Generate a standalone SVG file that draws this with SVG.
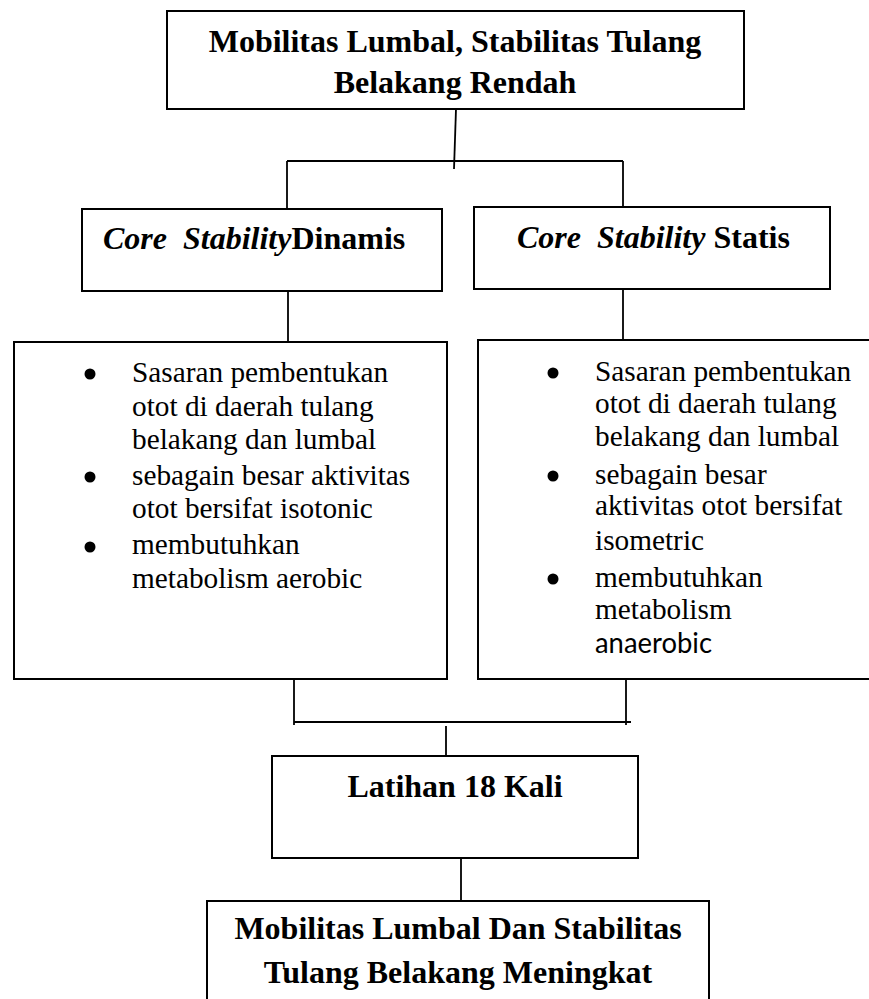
<svg xmlns="http://www.w3.org/2000/svg" width="869" height="999" viewBox="0 0 869 999">
  <style>
    .box { fill: #ffffff; stroke: #000000; stroke-width: 2; }
    .conn { fill: none; stroke: #000000; stroke-width: 1.8; }
    .title { font-family: "Liberation Serif", "Times New Roman", serif; font-weight: bold; font-size: 32px; fill: #000000; }
    .it { font-style: italic; }
    .body { font-family: "Liberation Serif", "Times New Roman", serif; font-size: 29.3px; fill: #000000; }
    .sans { font-family: Lato, "Open Sans", "Liberation Sans", sans-serif; font-size: 28px; fill: #000000; }
    .bullet { fill: #000000; }
  </style>
  <rect width="869" height="999" fill="#ffffff"/>

  <g id="connectors">
    <path class="conn" d="M456,109 L454,169"/>
    <path class="conn" d="M287,161 H623"/>
    <path class="conn" d="M287,161 V209"/>
    <path class="conn" d="M623,161 V207"/>
    <path class="conn" d="M288,291 V341"/>
    <path class="conn" d="M623,289 V340"/>
    <path class="conn" d="M294,679 V725"/>
    <path class="conn" d="M626,679 V725"/>
    <path class="conn" d="M294,722 H631"/>
    <path class="conn" d="M446,726 V756"/>
    <path class="conn" d="M461,858 V903"/>
  </g>

  <g id="node-top">
    <rect class="box" x="167" y="11" width="577" height="98"/>
    <text class="title" x="455" y="52" text-anchor="middle">Mobilitas Lumbal, Stabilitas Tulang</text>
    <text class="title" x="455" y="93" text-anchor="middle">Belakang Rendah</text>
  </g>

  <g id="node-dinamis">
    <rect class="box" x="82" y="209" width="360" height="82"/>
    <text class="title" x="103" y="249" xml:space="preserve"><tspan class="it">Core  Stability</tspan>Dinamis</text>
  </g>

  <g id="node-statis">
    <rect class="box" x="474" y="207" width="356" height="82"/>
    <text class="title" x="517" y="248" xml:space="preserve"><tspan class="it">Core  Stability</tspan> Statis</text>
  </g>

  <g id="node-dinamis-detail">
    <rect class="box" x="14" y="342" width="433" height="337"/>
    <circle class="bullet" cx="90" cy="374" r="5.5"/>
    <circle class="bullet" cx="90" cy="477" r="5.5"/>
    <circle class="bullet" cx="90" cy="547" r="5.5"/>
    <text class="body" x="132" y="382">Sasaran pembentukan</text>
    <text class="body" x="132" y="416">otot di daerah tulang</text>
    <text class="body" x="132" y="449">belakang dan lumbal</text>
    <text class="body" x="132" y="485">sebagain besar aktivitas</text>
    <text class="body" x="132" y="518">otot bersifat isotonic</text>
    <text class="body" x="132" y="554">membutuhkan</text>
    <text class="body" x="132" y="588">metabolism aerobic</text>
  </g>

  <g id="node-statis-detail">
    <path class="box" d="M880,340 H478 V679 H880"/>
    <circle class="bullet" cx="553" cy="373" r="5.5"/>
    <circle class="bullet" cx="553" cy="476" r="5.5"/>
    <circle class="bullet" cx="553" cy="579" r="5.5"/>
    <text class="body" x="595" y="381">Sasaran pembentukan</text>
    <text class="body" x="595" y="413">otot di daerah tulang</text>
    <text class="body" x="595" y="446">belakang dan lumbal</text>
    <text class="body" x="595" y="484">sebagain besar</text>
    <text class="body" x="595" y="515">aktivitas otot bersifat</text>
    <text class="body" x="595" y="550">isometric</text>
    <text class="body" x="595" y="587">membutuhkan</text>
    <text class="body" x="595" y="619">metabolism</text>
    <text class="sans" x="595" y="653" textLength="117" lengthAdjust="spacingAndGlyphs">anaerobic</text>
  </g>

  <g id="node-latihan">
    <rect class="box" x="272" y="756" width="366" height="102"/>
    <text class="title" x="455" y="797" text-anchor="middle">Latihan 18 Kali</text>
  </g>

  <g id="node-result">
    <path class="box" d="M207,1010 V901 H709 V1010"/>
    <text class="title" x="458" y="939" text-anchor="middle">Mobilitas Lumbal Dan Stabilitas</text>
    <text class="title" x="458" y="983" text-anchor="middle">Tulang Belakang Meningkat</text>
  </g>
</svg>
